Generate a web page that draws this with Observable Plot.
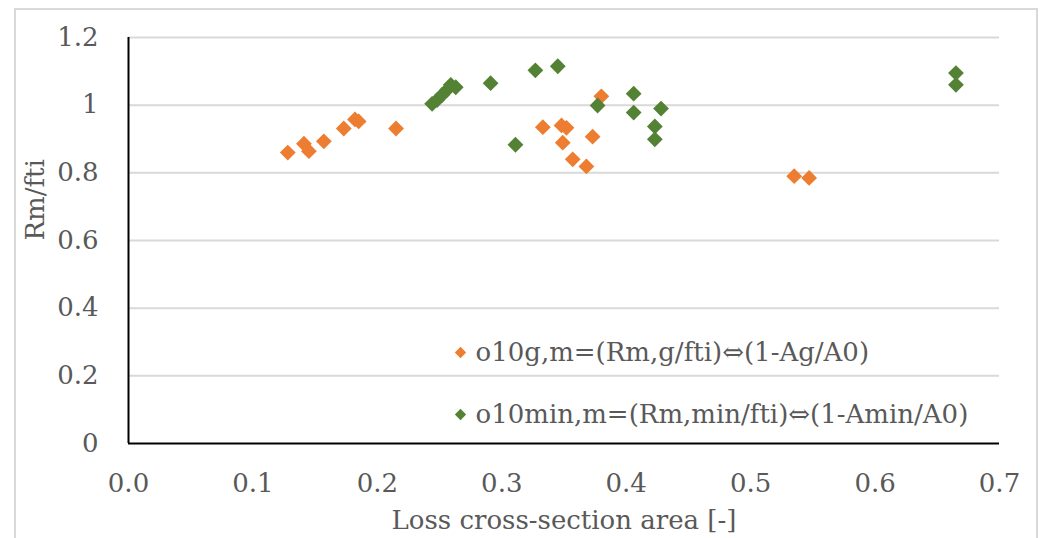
<!DOCTYPE html>
<html>
<head>
<meta charset="utf-8">
<script src="https://cdn.jsdelivr.net/npm/d3@7"></script>
<script src="https://cdn.jsdelivr.net/npm/@observablehq/plot@0.6"></script>
<style>
  html, body { margin: 0; padding: 0; background: #fff; }
  #wrap { position: relative; width: 1042px; height: 538px; overflow: hidden; }
  #border { position: absolute; left: 14px; top: 8px; width: 1024px; height: 560px; border: 2px solid #d9d9d9; box-sizing: border-box; pointer-events: none; }
</style>
</head>
<body>
<div id="wrap"><div id="border"></div></div>
<script>
// Series: o10g,m (orange)
const gX = [0.128, 0.141, 0.145, 0.157, 0.173, 0.182, 0.185, 0.215, 0.333, 0.348, 0.352, 0.349, 0.357, 0.368, 0.373, 0.380, 0.535, 0.547];
const gY = [0.860, 0.886, 0.864, 0.893, 0.931, 0.958, 0.952, 0.931, 0.935, 0.940, 0.933, 0.889, 0.840, 0.819, 0.907, 1.026, 0.790, 0.785];
// Series: o10min,m (green)
const minX = [0.244, 0.248, 0.252, 0.256, 0.259, 0.263, 0.291, 0.327, 0.345, 0.311, 0.377, 0.406, 0.406, 0.428, 0.423, 0.423, 0.665, 0.665];
const minY = [1.004, 1.015, 1.030, 1.045, 1.060, 1.053, 1.065, 1.103, 1.115, 0.883, 0.999, 1.034, 0.978, 0.990, 0.937, 0.899, 1.095, 1.060];

const seriesLabels = ["o10g,m=(Rm,g/fti)\u21D4(1-Ag/A0)", "o10min,m=(Rm,min/fti)\u21D4(1-Amin/A0)"];
const xTicks = [0, 0.1, 0.2, 0.3, 0.4, 0.5, 0.6, 0.7];
const yTicks = [0, 0.2, 0.4, 0.6, 0.8, 1.0, 1.2];
const xTitle = "Loss cross-section area [-]";
const yTitle = "Rm/fti";

const ORANGE = "#ED7D31";
const GREEN = "#548235";
const TEXT = "#595959";

const gData = gX.map((x, i) => ({x, y: gY[i]}));
const minData = minX.map((x, i) => ({x, y: minY[i]}));

const dotOpts = {x: "x", y: "y", symbol: "square", rotate: 45, r: 6.3, stroke: null};

const chart = Plot.plot({
  width: 1042,
  height: 538,
  marginLeft: 128,
  marginRight: 43,
  marginTop: 37,
  marginBottom: 95,
  style: {fontFamily: "'DejaVu Serif', serif", fontSize: "26px", color: TEXT, background: "transparent"},
  x: {domain: [0, 0.7]},
  y: {domain: [0, 1.2]},
  marks: [
    Plot.gridY(yTicks.filter(d => d > 0), {stroke: "#d9d9d9", strokeOpacity: 1, strokeWidth: 2}),
    Plot.axisY(yTicks, {tickSize: 0, tickPadding: 30, tickFormat: d => String(+d.toFixed(1)), label: null, fill: TEXT, fontSize: 26}),
    Plot.axisX(xTicks, {tickSize: 0, tickPadding: 30, tickFormat: d => d.toFixed(1), label: null, fill: TEXT, fontSize: 26}),
    Plot.ruleX([0], {stroke: "#000", strokeWidth: 2}),
    Plot.ruleY([0], {stroke: "#000", strokeWidth: 2}),
    Plot.dot(gData, {...dotOpts, fill: ORANGE}),
    Plot.dot(minData, {...dotOpts, fill: GREEN}),
    Plot.text([xTitle], {frameAnchor: "bottom", dy: 77, lineAnchor: "middle", text: d => d, fill: TEXT, fontSize: 26}),
    Plot.text([yTitle], {frameAnchor: "left", dx: -93, rotate: -90, lineAnchor: "middle", text: d => d, fill: TEXT, fontSize: 26}),
    Plot.dot([seriesLabels[0]], {frameAnchor: "bottom-left", dx: 332, dy: -91, symbol: "square", rotate: 45, r: 4.5, fill: ORANGE}),
    Plot.text([seriesLabels[0]], {frameAnchor: "bottom-left", dx: 347, dy: -91, lineAnchor: "middle", text: d => d, textAnchor: "start", fill: TEXT, fontSize: 26}),
    Plot.dot([seriesLabels[1]], {frameAnchor: "bottom-left", dx: 332, dy: -29, symbol: "square", rotate: 45, r: 4.5, fill: GREEN}),
    Plot.text([seriesLabels[1]], {frameAnchor: "bottom-left", dx: 347, dy: -29, lineAnchor: "middle", text: d => d, textAnchor: "start", fill: TEXT, fontSize: 26})
  ]
});
document.getElementById("wrap").appendChild(chart);
</script>
</body>
</html>
